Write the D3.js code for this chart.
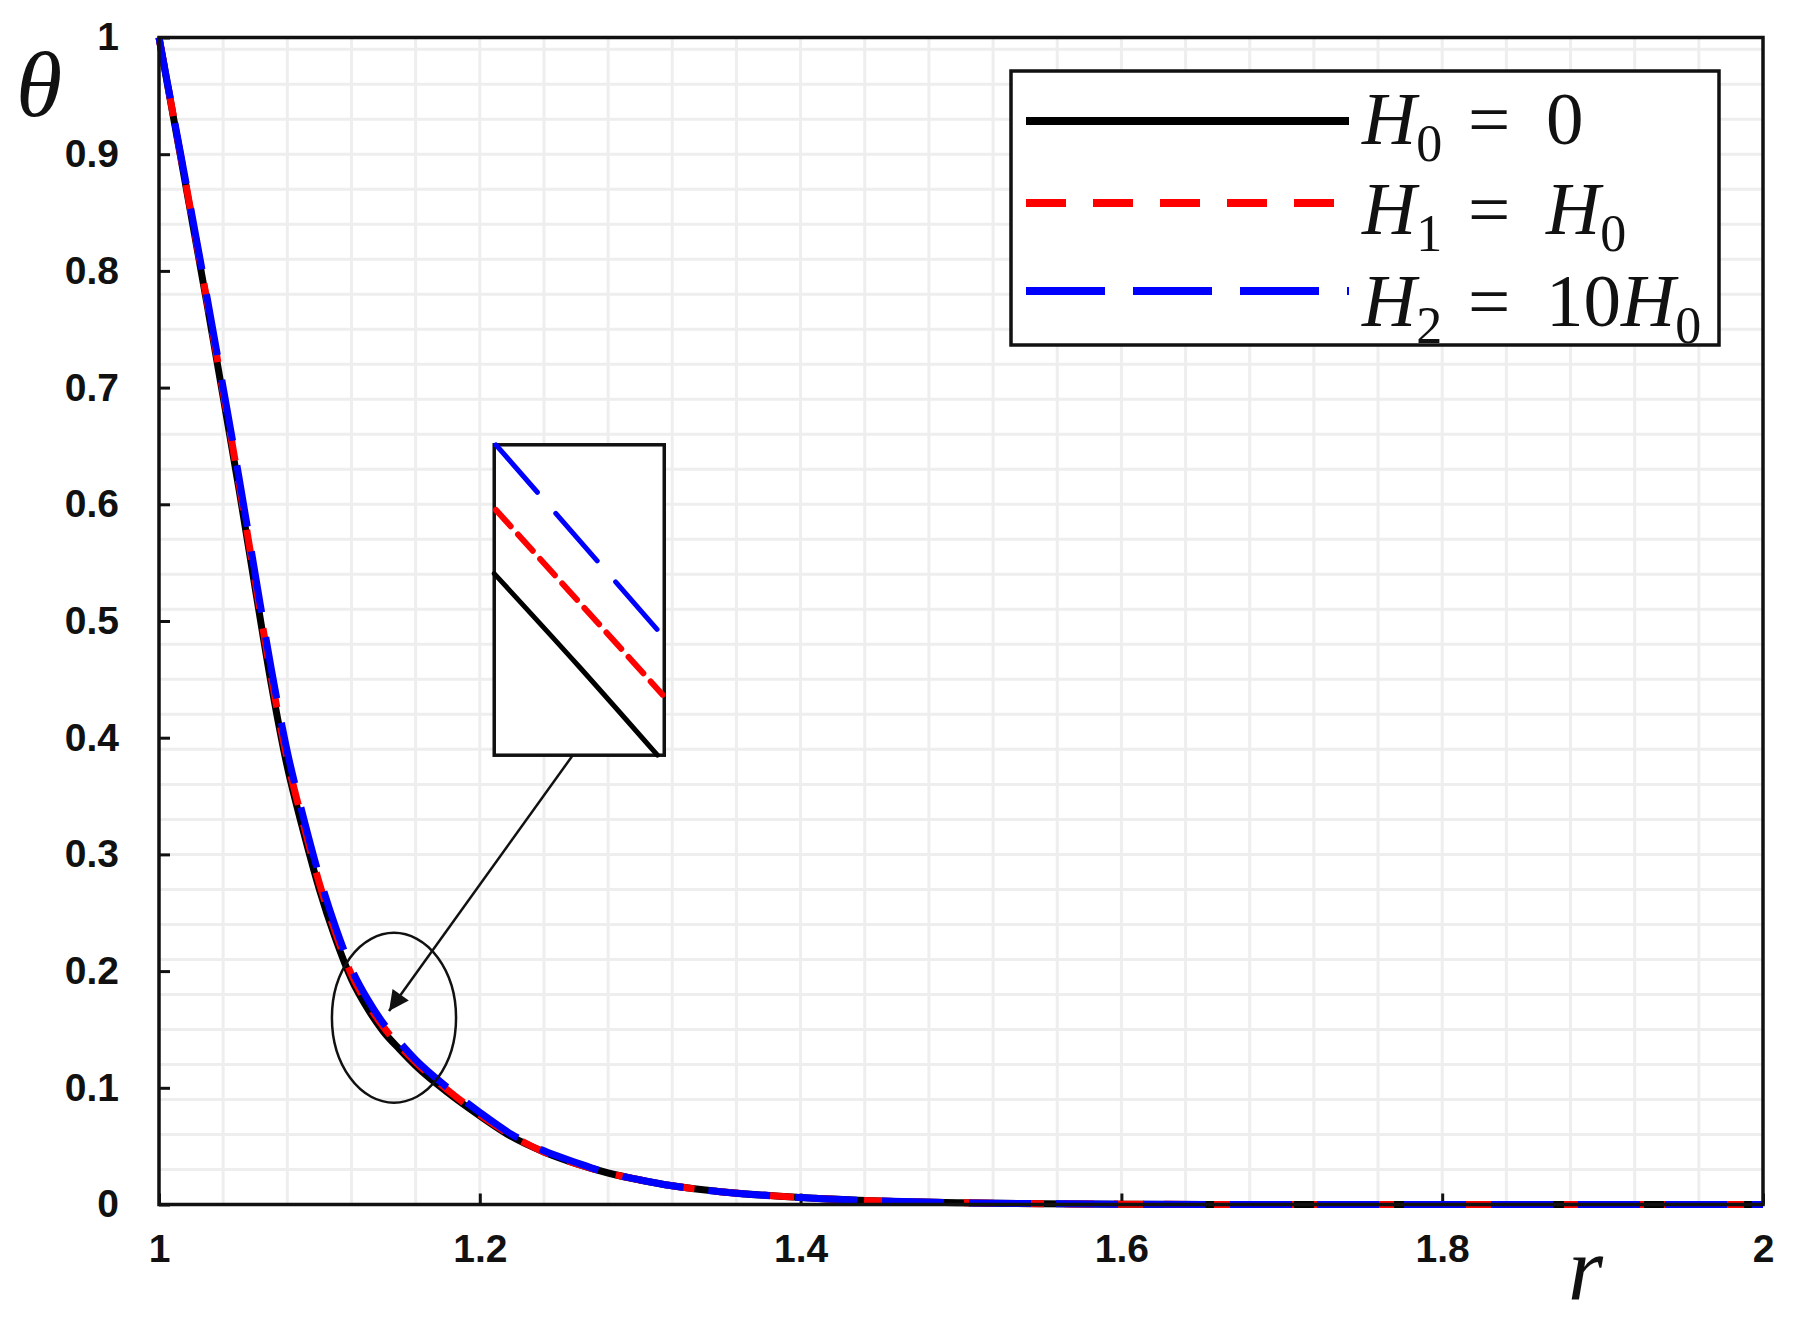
<!DOCTYPE html>
<html lang="en">
<head>
<meta charset="UTF-8">
<title>Temperature profile theta vs r</title>
<script src="https://d3js.org/d3.v7.min.js"></script>
<style>
  body { margin: 0; background: #fff; }
  .tick text { font-family: 'Liberation Sans', Arial, sans-serif; font-weight: bold; font-size: 39px; fill: #111; }
  .tick line { stroke: #111; stroke-width: 3; }
  .math { font-family: 'Liberation Serif', 'Times New Roman', serif; fill: #111; }
</style>
</head>
<body>
<svg width="1793" height="1317"></svg>
<script>
// data
const rVals = [1.00, 1.01, 1.02, 1.03, 1.04, 1.05, 1.06, 1.07, 1.08, 1.09, 1.10, 1.11, 1.12, 1.13, 1.14, 1.15, 1.16,
               1.18, 1.20, 1.22, 1.24, 1.26, 1.28, 1.30, 1.32, 1.35, 1.40, 1.45, 1.50, 1.55, 1.60, 1.70, 1.80, 1.90, 2.00];
const thetaH0 = [1.000, 0.924, 0.848, 0.771, 0.692, 0.612, 0.528, 0.446, 0.375, 0.320, 0.270, 0.228, 0.193, 0.168, 0.148, 0.133, 0.119,
                 0.096, 0.076, 0.058, 0.045, 0.035, 0.027, 0.021, 0.016, 0.011, 0.006, 0.003, 0.0015, 0.0007, 0.0003, 0, 0, 0, 0];
const thetaH1 = [1.000, 0.925, 0.850, 0.774, 0.696, 0.617, 0.534, 0.452, 0.381, 0.326, 0.275, 0.233, 0.197, 0.172, 0.152, 0.136, 0.122,
                 0.098, 0.077, 0.059, 0.045, 0.035, 0.027, 0.021, 0.016, 0.011, 0.006, 0.003, 0.0015, 0.0007, 0.0003, 0, 0, 0, 0];
const thetaH2 = [1.000, 0.926, 0.852, 0.777, 0.700, 0.622, 0.540, 0.459, 0.388, 0.332, 0.281, 0.238, 0.202, 0.176, 0.155, 0.139, 0.124,
                 0.100, 0.079, 0.060, 0.046, 0.036, 0.027, 0.021, 0.016, 0.011, 0.006, 0.003, 0.0015, 0.0007, 0.0003, 0, 0, 0, 0];
const xTicks = [1, 1.2, 1.4, 1.6, 1.8, 2];
const yTicks = [0, 0.1, 0.2, 0.3, 0.4, 0.5, 0.6, 0.7, 0.8, 0.9, 1];

const series = [
  { name: "H0", values: thetaH0, color: "#000", dash: null, legendDash: null, insetDash: null, sub: "0", rhs: [["", "0"]] },
  { name: "H1", values: thetaH1, color: "#ff0000", dash: "30 20", legendDash: "40 27", insetDash: "22 11", sub: "1", rhs: [["H", "0"]] },
  { name: "H2", values: thetaH2, color: "#0000ff", dash: "62 25", legendDash: "79 28", insetDash: "63 28", sub: "2", rhs: [["10", ""], ["H", "0"]] }
];

const svg = d3.select("svg");
const plot = { left: 159, right: 1763, top: 37.5, bottom: 1204.5 };

const x = d3.scaleLinear().domain([1, 2]).range([plot.left, plot.right]);
const y = d3.scaleLinear().domain([0, 1]).range([plot.bottom, plot.top]);

// grid (minor lines every 0.04 in r and 0.03 in theta)
const grid = svg.append("g").attr("stroke", "#eeeeee").attr("stroke-width", 3);
grid.selectAll("line.v")
  .data(d3.range(1, 25).map(i => 1 + i * 0.04))
  .enter().append("line")
  .attr("x1", d => x(d)).attr("x2", d => x(d))
  .attr("y1", plot.top).attr("y2", plot.bottom);
grid.selectAll("line.h")
  .data(d3.range(1, 34).map(i => i * 0.03))
  .enter().append("line")
  .attr("y1", d => y(d)).attr("y2", d => y(d))
  .attr("x1", plot.left).attr("x2", plot.right);

// axes with inward ticks
const gx = svg.append("g")
  .attr("transform", `translate(0,${plot.bottom})`)
  .call(d3.axisBottom(x).tickValues(xTicks).tickSizeInner(-11).tickSizeOuter(0).tickPadding(30)
        .tickFormat(d3.format("")));
gx.select(".domain").remove();

const gy = svg.append("g")
  .attr("transform", `translate(${plot.left},0)`)
  .call(d3.axisLeft(y).tickValues(yTicks).tickSizeInner(-11).tickSizeOuter(0).tickPadding(40)
        .tickFormat(d3.format("")));
gy.select(".domain").remove();

// curves
const line = d3.line()
  .x((d, i) => x(rVals[i]))
  .y(d => y(d))
  .curve(d3.curveMonotoneX);

svg.append("g").selectAll("path")
  .data(series)
  .enter().append("path")
  .attr("fill", "none")
  .attr("stroke", d => d.color)
  .attr("stroke-width", 7)
  .attr("stroke-dasharray", d => d.dash)
  .attr("d", d => line(d.values));

// frame
svg.append("rect")
  .attr("x", plot.left).attr("y", plot.top)
  .attr("width", plot.right - plot.left).attr("height", plot.bottom - plot.top)
  .attr("fill", "none").attr("stroke", "#111").attr("stroke-width", 3.5);

// axis titles
svg.append("text").attr("class", "math")
  .attr("x", 16).attr("y", 116)
  .style("font-style", "italic").style("font-size", "94px")
  .text("θ");
svg.append("text").attr("class", "math")
  .attr("x", 1568).attr("y", 1299)
  .style("font-style", "italic").style("font-size", "90px")
  .text("r");

// zoom annotation: ellipse, arrow and inset (positions in data units)
const ellipse = { r: 1.1465, t: 0.160, dr: 0.0387, dt: 0.0728 };
const inset = { r0: 1.209, r1: 1.315, t0: 0.651, t1: 0.385 };
const arrow = { r0: 1.2594, t0: 0.3877, r1: 1.1434, t1: 0.1658 };

svg.append("ellipse")
  .attr("cx", x(ellipse.r)).attr("cy", y(ellipse.t))
  .attr("rx", x(ellipse.r + ellipse.dr) - x(ellipse.r))
  .attr("ry", y(ellipse.t) - y(ellipse.t + ellipse.dt))
  .attr("fill", "none").attr("stroke", "#111").attr("stroke-width", 2.5);

svg.append("defs").append("marker")
  .attr("id", "head").attr("viewBox", "0 0 10 10")
  .attr("refX", 10).attr("refY", 5)
  .attr("markerUnits", "userSpaceOnUse")
  .attr("markerWidth", 24).attr("markerHeight", 20)
  .attr("orient", "auto")
  .append("path").attr("d", "M0,0 L10,5 L0,10 Z").attr("fill", "#111");

svg.append("line")
  .attr("x1", x(arrow.r0)).attr("y1", y(arrow.t0))
  .attr("x2", x(arrow.r1)).attr("y2", y(arrow.t1))
  .attr("stroke", "#111").attr("stroke-width", 2.5)
  .attr("marker-end", "url(#head)");

const ix = d3.scaleLinear().domain([0, 1]).range([x(inset.r0), x(inset.r1)]);
const iy = d3.scaleLinear().domain([0, 1]).range([y(inset.t0), y(inset.t1)]);
const insetLines = [
  { s: series[0], pts: [[0.0, 0.415], [0.5, 0.715], [0.96, 1.0]] },
  { s: series[1], pts: [[0.01, 0.21], [0.99, 0.805]] },
  { s: series[2], pts: [[0.01, 0.0], [0.99, 0.615]] }
];
const gi = svg.append("g");
gi.append("rect")
  .attr("x", ix(0)).attr("y", iy(0))
  .attr("width", ix(1) - ix(0)).attr("height", iy(1) - iy(0))
  .attr("fill", "#fff").attr("stroke", "#111").attr("stroke-width", 3.5);
gi.selectAll("path.inset")
  .data(insetLines)
  .enter().append("path")
  .attr("fill", "none")
  .attr("stroke", d => d.s.color)
  .attr("stroke-width", d => d.s.name === "H1" ? 6 : 5)
  .attr("stroke-linecap", "round")
  .attr("stroke-dasharray", d => d.s.insetDash)
  .attr("d", d => d3.line().x(p => ix(p[0])).y(p => iy(p[1])).curve(d3.curveMonotoneX)(d.pts));

// legend
const legend = svg.append("g");
legend.append("rect")
  .attr("x", 1011).attr("y", 71).attr("width", 708).attr("height", 274)
  .attr("fill", "#fff").attr("stroke", "#111").attr("stroke-width", 3.5);
const rowY = [121, 203, 291];
const baseY = [144, 234, 326];
series.forEach((s, i) => {
  legend.append("line")
    .attr("x1", 1026).attr("x2", 1349)
    .attr("y1", rowY[i]).attr("y2", rowY[i])
    .attr("stroke", s.color).attr("stroke-width", 8)
    .attr("stroke-dasharray", s.legendDash);
  const t = legend.append("text").attr("class", "math")
    .attr("x", 1362).attr("y", baseY[i])
    .style("font-size", "75px");
  t.append("tspan").style("font-style", "italic").text("H");
  t.append("tspan").attr("dy", 17).style("font-size", "52px").text(s.sub);
  t.append("tspan").attr("x", 1468).attr("dy", -17).text("=");
  let first = true;
  s.rhs.forEach(([main, sub]) => {
    const isVar = main === "H";
    const tm = t.append("tspan").style("font-style", isVar ? "italic" : "normal").text(main || sub);
    if (first) { tm.attr("x", 1546); first = false; }
    if (main && sub) {
      t.append("tspan").attr("dy", 17).style("font-size", "52px").text(sub);
      t.append("tspan").attr("dy", -17).text("");
    }
  });
});
</script>
</body>
</html>
